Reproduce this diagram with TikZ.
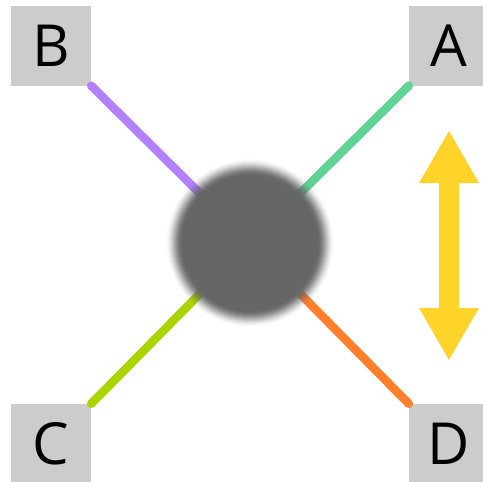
\documentclass[tikz,border=0pt]{standalone}
\usepackage{fontspec}
\setmainfont{Open Sans}
\definecolor{boxgray}{HTML}{CCCCCC}
\definecolor{circgray}{HTML}{666666}
\definecolor{lpurple}{HTML}{B380FF}
\definecolor{lgreen}{HTML}{5FD394}
\definecolor{llime}{HTML}{AAD400}
\definecolor{lorange}{HTML}{FF7F2A}
\definecolor{lyellow}{HTML}{FFD42A}
\begin{document}
\begin{tikzpicture}[x=1pt,y=-1pt,
  cornerbox/.style={fill=boxgray, draw=none, minimum width=80pt, minimum height=80pt, inner sep=0pt, font=\fontsize{58}{60}\selectfont, text=black},
  spoke/.style={line width=8.5pt, line cap=round}]
\useasboundingbox (0,0) rectangle (483,482);
\node[cornerbox] (B) at (51,45.5) {B};
\node[cornerbox] (A) at (449,45.5) {A};
\node[cornerbox] (C) at (51,444) {C};
\node[cornerbox] (D) at (449,444) {D};
\coordinate (hub) at (250,243);
\draw[spoke, lpurple] (B.south east) -- (hub);
\draw[spoke, lgreen] (A.south west) -- (hub);
\draw[spoke, llime] (C.north east) -- (hub);
\draw[spoke, lorange] (D.north west) -- (hub);
\foreach \k in {1,...,17}{
  \pgfmathsetmacro\ta{\k/17}
  \pgfmathsetmacro\tb{(\k-1)/17}
  \pgfmathsetmacro\ca{\ta*\ta*(3-2*\ta)}
  \pgfmathsetmacro\cb{\tb*\tb*(3-2*\tb)}
  \pgfmathsetmacro\op{min(1,(\ca-\cb)/(1-\cb))}
  \pgfmathsetmacro\rr{84-(\k-1)}
  \fill[circgray, fill opacity=\op] (hub) circle (\rr pt);
}
\fill[lyellow] (449,131) -- (479,183) -- (459,183) -- (459,308) -- (479,308) -- (449,360)
  -- (419,308) -- (439,308) -- (439,183) -- (419,183) -- cycle;
\end{tikzpicture}
\end{document}
